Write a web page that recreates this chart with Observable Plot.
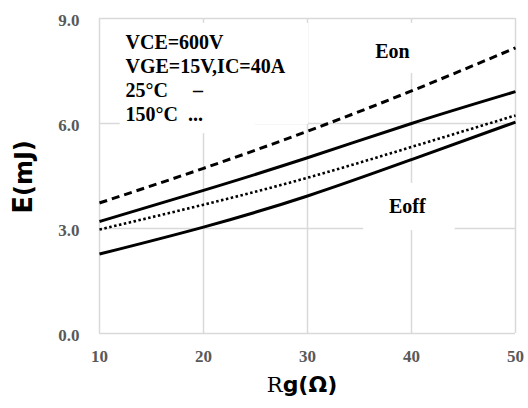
<!DOCTYPE html>
<html>
<head>
<meta charset="utf-8">
<script src="https://cdn.jsdelivr.net/npm/d3@7"></script>
<script src="https://cdn.jsdelivr.net/npm/@observablehq/plot@0.6"></script>
<style>
  body { margin: 0; background: #fff; }
  #chart svg { display: block; }
</style>
</head>
<body>
<div id="chart"></div>
<script>
// ---- data ----
const rg = [10, 20, 30, 40, 50];
const eon25 = [3.2, 4.09, 5.02, 6.0, 6.91];
const eon150 = [3.73, 4.72, 5.78, 6.93, 8.16];
const eoff150 = [2.97, 3.68, 4.45, 5.33, 6.23];
const eoff25 = [2.27, 3.04, 3.93, 4.97, 6.04];
const xTicks = [10, 20, 30, 40, 50];
const yTicks = [0, 3, 6, 9];
const legendLines = ["VCE=600V", "VGE=15V,IC=40A", "25°C\u00a0\u00a0\u00a0\u00a0\u00a0–", "150°C\u00a0\u00a0..."];
const curveLabels = ["Eon", "Eoff"];

// annotation placement (data units)
const legendPos = [
  {x: 12.5, y: 8.31}, {x: 12.5, y: 7.63}, {x: 12.5, y: 6.94}, {x: 12.5, y: 6.26}
];
const labelPos = [{x: 38.17, y: 8.06}, {x: 39.6, y: 3.63}];
const boxes = [
  {x1: 12.0, x2: 30.1, y1: 5.97, y2: 8.86},
  {x1: 12.0, x2: 25.0, y1: 5.71, y2: 8.86},
  {x1: 35.4, x2: 44.5, y1: 7.43, y2: 8.86},
  {x1: 35.4, x2: 44.2, y1: 2.94, y2: 4.29}
];

const mk = arr => rg.map((r, i) => ({rg: r, e: arr[i]}));
const serif = "'Liberation Serif', 'Times New Roman', serif";
const lineOpts = {x: "rg", y: "e", stroke: "black", strokeWidth: 3, strokeLinecap: "butt", curve: "natural"};

const plot = Plot.plot({
  width: 528,
  height: 408,
  marginLeft: 99,
  marginRight: 13,
  marginTop: 18,
  marginBottom: 75,
  x: {domain: [10, 50]},
  y: {domain: [0, 9]},
  style: {fontFamily: serif, background: "white"},
  marks: [
    Plot.gridX(xTicks, {stroke: "#d9d9d9", strokeOpacity: 1, strokeWidth: 1.5}),
    Plot.gridY(yTicks, {stroke: "#d9d9d9", strokeOpacity: 1, strokeWidth: 1.5}),
    Plot.rect(boxes, {x1: "x1", x2: "x2", y1: "y1", y2: "y2", fill: "white"}),
    Plot.axisX({ticks: xTicks, tickSize: 0, tickPadding: 16, fontSize: 17, fontWeight: "bold", color: "#595959", label: null, tickFormat: d => String(d)}),
    Plot.axisY({ticks: yTicks, tickSize: 0, tickPadding: 20, fontSize: 17, fontWeight: "bold", color: "#595959", label: null, tickFormat: d => d.toFixed(1), dy: 2}),
    Plot.line(mk(eon150), {...lineOpts, strokeDasharray: "8,5"}),
    Plot.line(mk(eon25), lineOpts),
    Plot.line(mk(eoff150), {...lineOpts, strokeWidth: 2.6, strokeDasharray: "2.5,2.5"}),
    Plot.line(mk(eoff25), lineOpts),
    Plot.text(legendLines, {x: (d, i) => legendPos[i].x, y: (d, i) => legendPos[i].y, text: d => d, textAnchor: "start", fontSize: 20, fontWeight: "bold", fill: "black", fontFamily: serif}),
    Plot.text(curveLabels, {x: (d, i) => labelPos[i].x, y: (d, i) => labelPos[i].y, text: d => d, textAnchor: "middle", fontSize: 20, fontWeight: "bold", fill: "black", fontFamily: serif})
  ]
});

document.getElementById("chart").appendChild(plot);

const svg = d3.select(plot);
// y axis title
const yt = svg.append("text")
  .attr("transform", "translate(32,177) rotate(-90)")
  .attr("text-anchor", "middle")
  .attr("font-family", "'DejaVu Sans', sans-serif")
  .attr("font-weight", "bold")
  .attr("fill", "black");
yt.append("tspan").attr("font-size", 26).text("E");
yt.append("tspan").attr("font-size", 24).text("(mJ)");
// x axis title
const xt = svg.append("text")
  .attr("transform", "translate(302,392)")
  .attr("text-anchor", "middle")
  .attr("fill", "black");
xt.append("tspan").attr("font-family", "'DejaVu Serif', serif").attr("font-size", 21).text("R");
xt.append("tspan").attr("font-family", "'DejaVu Sans', sans-serif").attr("font-weight", "bold").attr("font-size", 22).text("g(Ω)");
</script>
</body>
</html>
